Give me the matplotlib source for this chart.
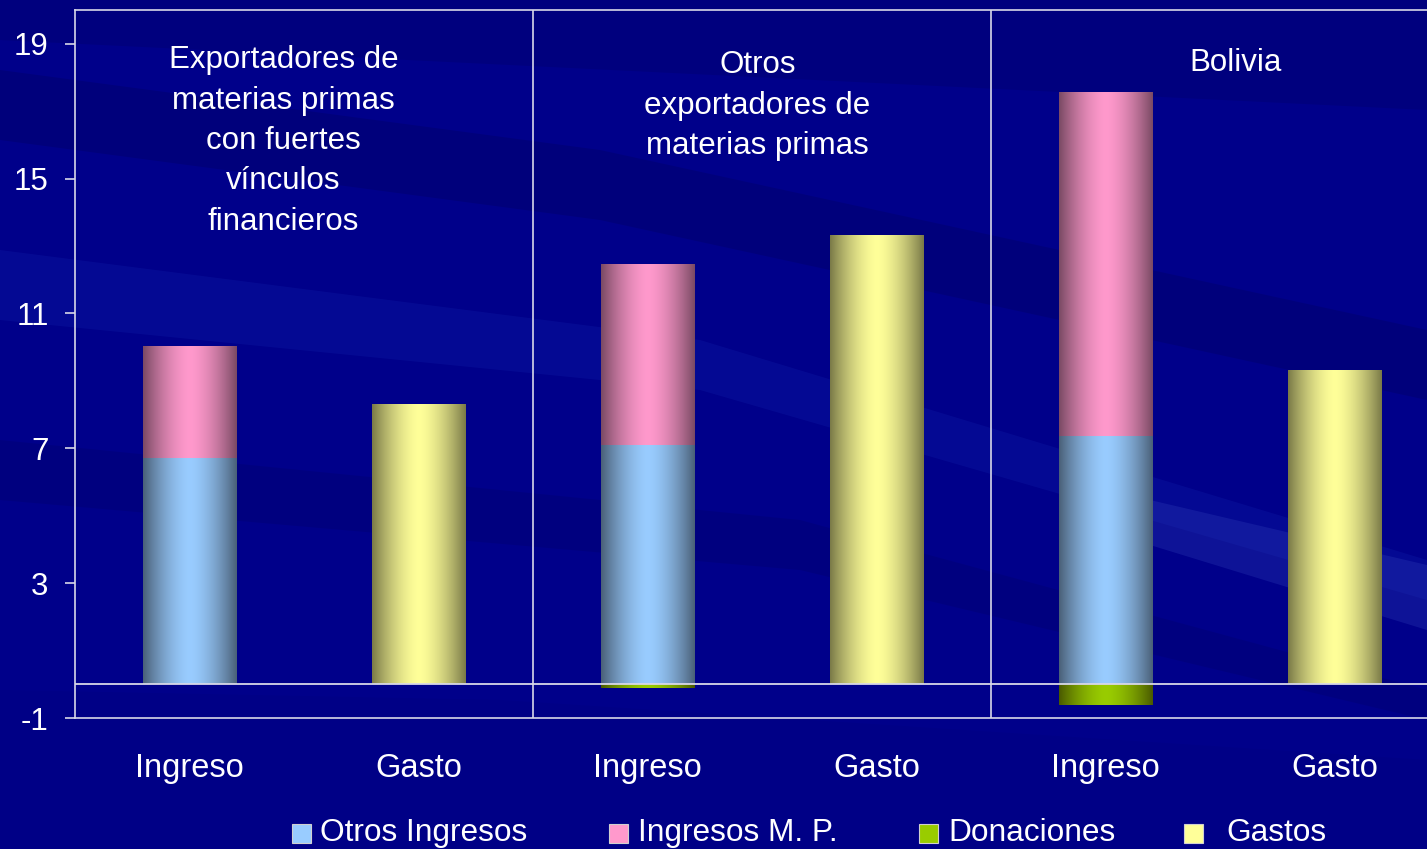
import numpy as np
import matplotlib.pyplot as plt
from matplotlib.patches import Polygon, Rectangle

plt.rcParams['font.family'] = ['Liberation Sans', 'DejaVu Sans']
plt.rcParams['axes.unicode_minus'] = False

# datos
categorias = ['Ingreso', 'Gasto', 'Ingreso', 'Gasto', 'Ingreso', 'Gasto']
otros_ingresos = [6.7, 0, 7.1, 0, 7.35, 0]
ingresos_mp = [3.3, 0, 5.35, 0, 10.2, 0]
donaciones = [0, 0, -0.1, 0, -0.62, 0]
gastos = [0, 8.3, 0, 13.3, 0, 9.3]
grupos = ['Exportadores de\nmaterias primas\ncon fuertes\nvínculos\nfinancieros',
          'Otros\nexportadores de\nmaterias primas',
          'Bolivia']
serie_nombres = ['Otros Ingresos', 'Ingresos M. P.', 'Donaciones', 'Gastos']

# colores (centro claro, borde oscuro)
col_claro = ['#99CCFF', '#FF99CC', '#99CC00', '#FFFF99']
col_oscuro = ['#4A6078', '#7A4A64', '#4A5A00', '#7A7A48']

W, H = 1427, 849
fig = plt.figure(figsize=(W / 100, H / 100), dpi=100)
fig.patch.set_facecolor('#00008A')

# fondo con franjas diagonales
bg = fig.add_axes([0, 0, 1, 1], zorder=-5)
bg.set_xlim(0, W)
bg.set_ylim(H, 0)
bg.axis('off')
franjas = [
    ([(0, 70), (600, 150), (1427, 330), (1427, 400), (600, 220), (0, 140)], '#000070', 0.55),
    ([(0, 250), (700, 340), (1427, 560), (1427, 600), (700, 390), (0, 320)], '#1020A8', 0.3),
    ([(0, 440), (800, 520), (1427, 690), (1427, 720), (800, 570), (0, 500)], '#000070', 0.4),
    ([(1150, 500), (1427, 565), (1427, 630), (1150, 545)], '#3040B8', 0.3),
    ([(0, 690), (500, 700), (1427, 760), (1427, 849), (0, 849)], '#000080', 0.4),
    ([(0, 0), (1427, 0), (1427, 110), (0, 40)], '#000070', 0.45),
]
for pts, c, a in franjas:
    bg.add_patch(Polygon(pts, closed=True, facecolor=c, edgecolor='none', alpha=a))

ax = fig.add_axes([75 / W, 131 / H, 1352 / W, 708 / H])
ax.set_facecolor('none')
x = np.arange(len(categorias))
ancho = 0.41


def hex2rgb(h):
    h = h.lstrip('#')
    return np.array([int(h[i:i + 2], 16) / 255 for i in (0, 2, 4)])


def barra_gradiente(xc, y0, y1, k):
    if y0 == y1:
        return
    u = np.linspace(0, 1, 200)
    perfil = 1 - np.abs(2 * u - 1) ** 1.6
    claro, oscuro = hex2rgb(col_claro[k]), hex2rgb(col_oscuro[k])
    img = oscuro[None, :] + (claro - oscuro)[None, :] * perfil[:, None]
    img = img[None, :, :]
    ax.imshow(img, extent=[xc - ancho / 2, xc + ancho / 2, min(y0, y1), max(y0, y1)],
              aspect='auto', zorder=2, interpolation='bilinear')


for i in range(len(categorias)):
    barra_gradiente(x[i], 0, otros_ingresos[i], 0)
    barra_gradiente(x[i], otros_ingresos[i], otros_ingresos[i] + ingresos_mp[i], 1)
    barra_gradiente(x[i], 0, donaciones[i], 2)
    barra_gradiente(x[i], 0, gastos[i], 3)

ax.set_xlim(-0.5, 5.404)
ax.set_ylim(-1, 20)

linea = '#D8D8E8'
ax.axhline(0, color=linea, lw=1.3, zorder=3)
for xs in [1.5, 3.5]:
    ax.axvline(xs, color=linea, lw=1.2, zorder=3)

ax.spines['right'].set_visible(False)
for s in ['left', 'top', 'bottom']:
    ax.spines[s].set_color(linea)
    ax.spines[s].set_linewidth(1.2)

ax.set_yticks([-1, 3, 7, 11, 15, 19])
ax.tick_params(axis='y', colors=linea, length=7, width=1.2, pad=12,
               labelsize=22.5, labelcolor='white')
ax.set_xticks(x)
ax.set_xticklabels(categorias)
ax.tick_params(axis='x', length=0, pad=25, labelsize=23.5, labelcolor='white')

# titulos de grupo
pos_titulo = [(0.41, 18.95), (2.48, 18.8), (4.57, 18.87)]
for (tx, ty), t in zip(pos_titulo, grupos):
    ax.text(tx, ty, t, ha='center', va='top', color='white', fontsize=22.5,
            linespacing=1.45, zorder=4)

# leyenda manual
ley = [(292, 320), (609, 638), (919, 948), (1184, 1226)]
for k, (xc, xt) in enumerate(ley):
    fig.patches.append(Rectangle((xc / W, (849 - 843) / H), 19 / W, 19 / H,
                                 transform=fig.transFigure, facecolor=col_claro[k],
                                 edgecolor='#D0D0D0', lw=0.8, figure=fig))
    fig.text(xt / W, (849 - 833) / H, serie_nombres[k], color='white', fontsize=22.8,
             va='center', ha='left')

fig.savefig('out.png', dpi=100, facecolor=fig.get_facecolor())
